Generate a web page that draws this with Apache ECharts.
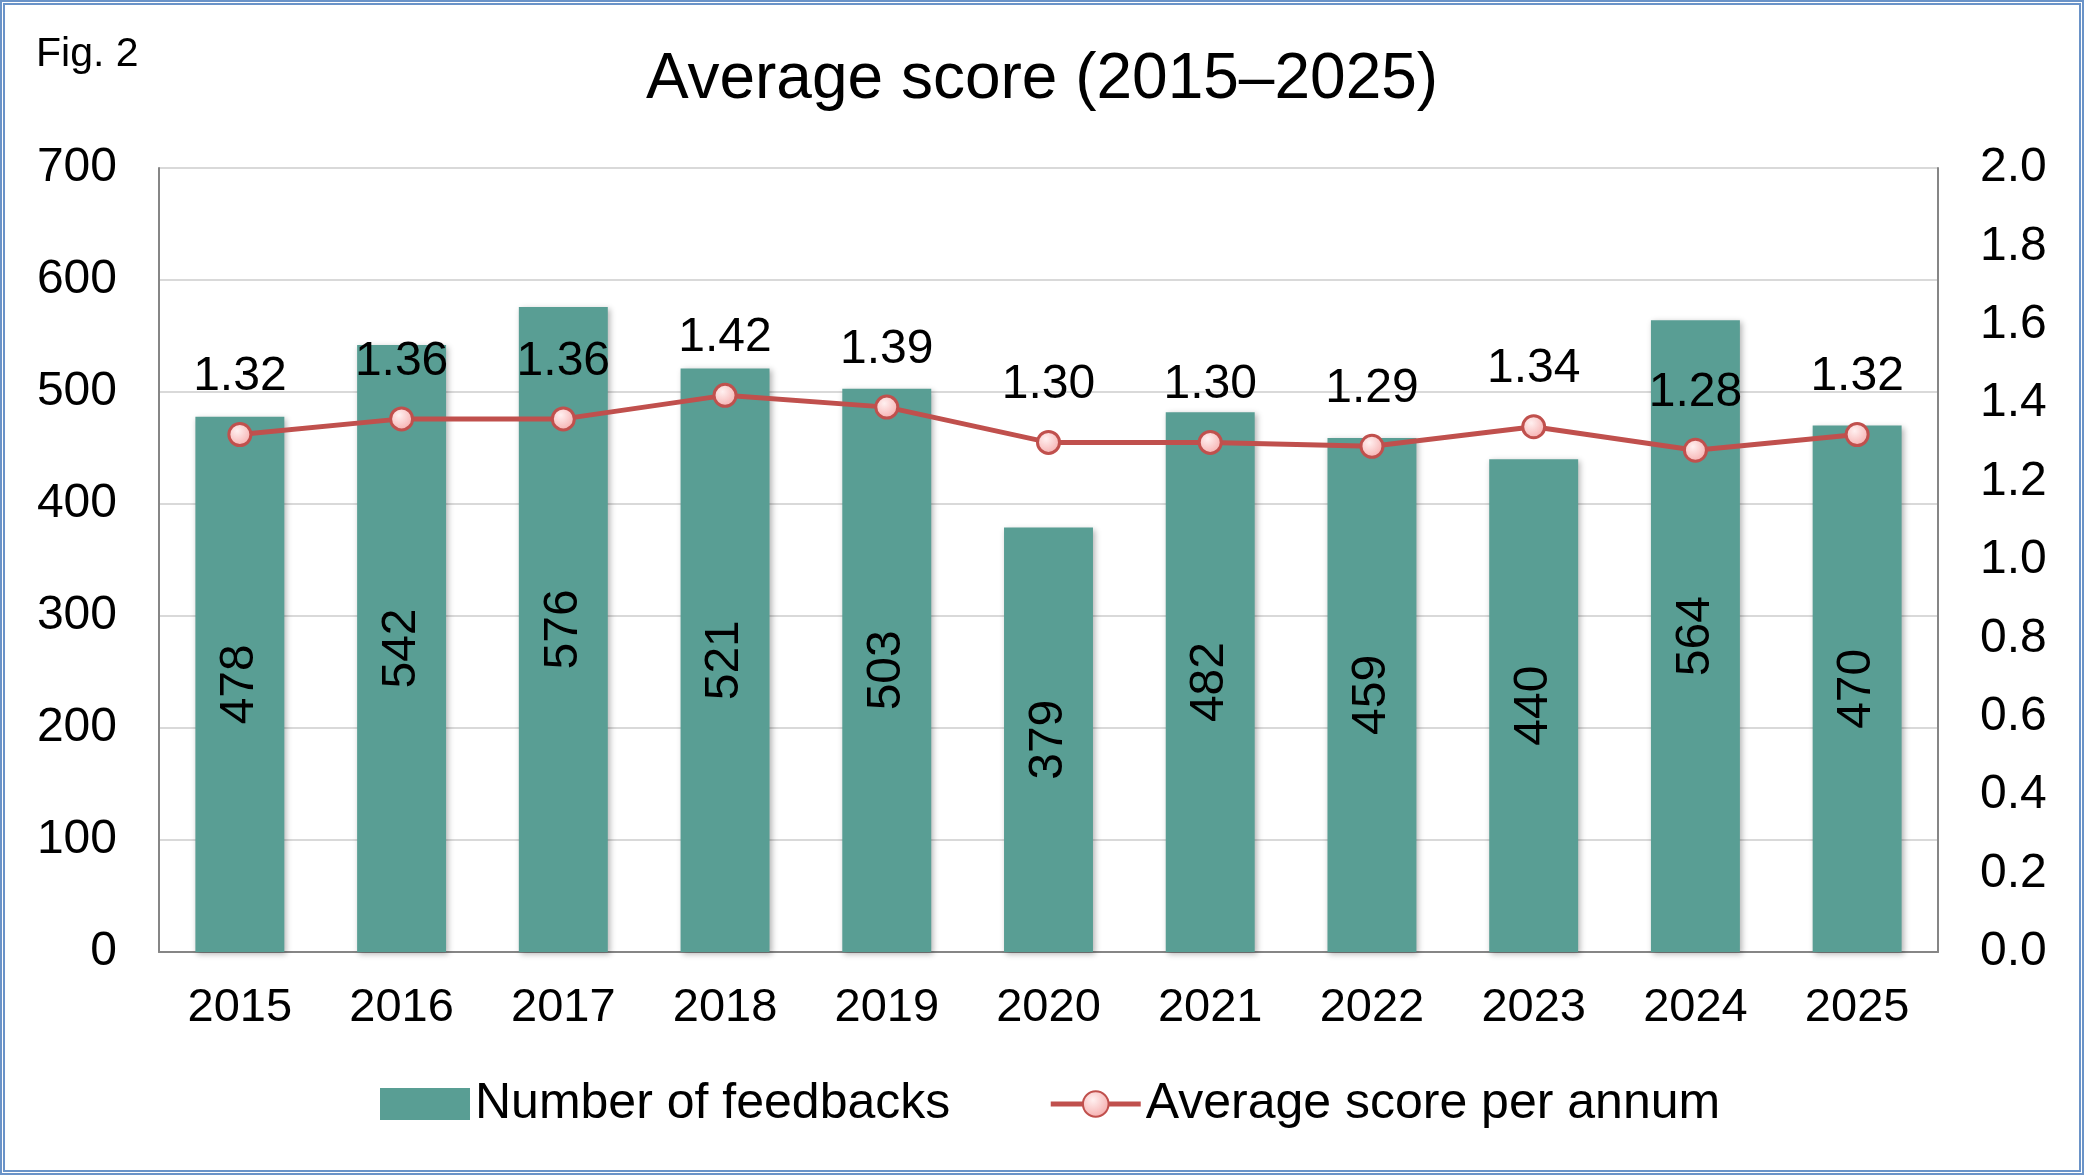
<!DOCTYPE html>
<html lang="en">
<head>
    <meta charset="UTF-8">
    <title>Average score (2015–2025)</title>
    <script src="https://cdn.jsdelivr.net/npm/echarts@6/dist/echarts.min.js"></script>
    <style>
        * { margin: 0; padding: 0; box-sizing: border-box; }
        body { width: 2084px; height: 1175px; background: #fff; overflow: hidden; }
        #frame { width: 2084px; height: 1175px; border: 5px double #6A93C8; }
        #chart { width: 100%; height: 100%; }
    </style>
</head>
<body>
    <div id="frame"><div id="chart"></div></div>
    <script>
        const years = ['2015', '2016', '2017', '2018', '2019', '2020', '2021', '2022', '2023', '2024', '2025'];
        const feedbacks = [478, 542, 576, 521, 503, 379, 482, 459, 440, 564, 470];
        const avgScore = [1.32, 1.36, 1.36, 1.42, 1.39, 1.30, 1.30, 1.29, 1.34, 1.28, 1.32];

        const font = '"Liberation Sans", Arial, sans-serif';
        const chart = echarts.init(document.getElementById('chart'));

        chart.setOption({
            animation: false,
            textStyle: { fontFamily: font, color: '#000' },
            title: [
                { text: 'Average score (2015–2025)', left: 'center', top: 38,
                  textStyle: { fontSize: 64, fontWeight: 'normal', color: '#000', fontFamily: font } },
                { text: 'Fig. 2', left: 26, top: 24,
                  textStyle: { fontSize: 41, fontWeight: 'normal', color: '#000', fontFamily: font } }
            ],
            grid: { left: 154, right: 141, top: 163, bottom: 218 },
            legend: {
                bottom: 36, left: 370,
                itemWidth: 90, itemHeight: 32, itemGap: 98,
                textStyle: { fontSize: 50, color: '#000', fontFamily: font },
                data: [
                    { name: 'Number of feedbacks', icon: 'rect' },
                    { name: 'Average score per annum', lineStyle: { width: 5 } }
                ]
            },
            xAxis: {
                type: 'category', data: years,
                axisLine: { lineStyle: { color: '#868686', width: 2 } },
                axisTick: { show: false },
                axisLabel: { fontSize: 47, color: '#000', margin: 33 }
            },
            yAxis: [
                {
                    type: 'value', min: 0, max: 700, interval: 100,
                    axisLine: { show: true, lineStyle: { color: '#868686', width: 2 } },
                    axisTick: { show: false },
                    axisLabel: { fontSize: 48, color: '#000', margin: 42 },
                    splitLine: { lineStyle: { color: '#D9D9D9', width: 2 } }
                },
                {
                    type: 'value', min: 0, max: 2, interval: 0.2,
                    axisLine: { show: true, lineStyle: { color: '#868686', width: 2 } },
                    axisTick: { show: false },
                    axisLabel: { fontSize: 48, color: '#000', margin: 42, formatter: v => v.toFixed(1) },
                    splitLine: { show: false }
                }
            ],
            series: [
                {
                    name: 'Number of feedbacks', type: 'bar', data: feedbacks,
                    barWidth: '55%',
                    itemStyle: {
                        color: '#599E94',
                        shadowColor: 'rgba(0,0,0,0.3)', shadowBlur: 6, shadowOffsetX: 2, shadowOffsetY: 2
                    },
                    label: {
                        show: true, position: 'inside', rotate: 90,
                        fontSize: 48, color: '#000', fontFamily: font
                    }
                },
                {
                    name: 'Average score per annum', type: 'line', yAxisIndex: 1, data: avgScore,
                    symbol: 'circle', symbolSize: 22, z: 5,
                    lineStyle: { color: '#C0504D', width: 5 },
                    itemStyle: {
                        color: {
                            type: 'radial', x: 0.4, y: 0.35, r: 0.7,
                            colorStops: [{ offset: 0, color: '#FFF0F0' }, { offset: 1, color: '#F5A9A9' }]
                        },
                        borderColor: '#C0504D', borderWidth: 3
                    },
                    label: {
                        show: true, position: 'top', distance: 21,
                        fontSize: 48, color: '#000', fontFamily: font,
                        formatter: p => p.value.toFixed(2)
                    }
                }
            ]
        });
    </script>
</body>
</html>
